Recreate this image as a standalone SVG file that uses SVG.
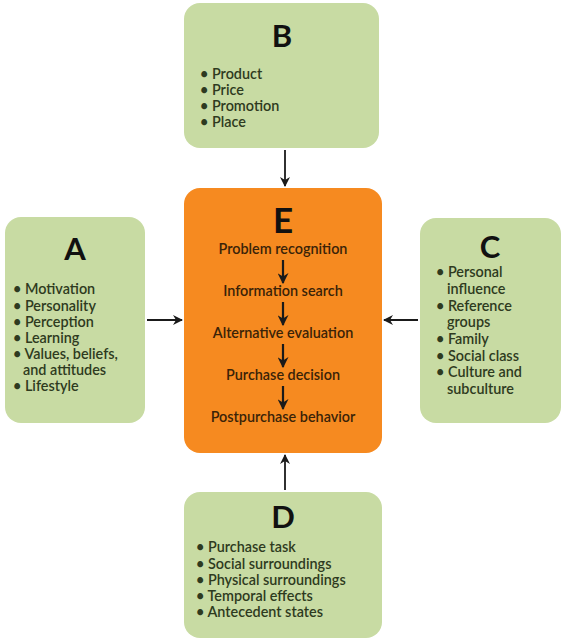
<svg xmlns="http://www.w3.org/2000/svg" width="564" height="642" viewBox="0 0 564 642">
<defs>
<marker id="ah" viewBox="0 0 10 10" refX="9" refY="5" markerWidth="10" markerHeight="10" markerUnits="userSpaceOnUse" orient="auto">
<path d="M0,0 L10,5 L0,10 L3,5 z" fill="#1a1a1a"/>
</marker>
<marker id="ah2" viewBox="0 0 10 10" refX="9" refY="5" markerWidth="11" markerHeight="11" markerUnits="userSpaceOnUse" orient="auto">
<path d="M0,0 L10,5 L0,10 L3,5 z" fill="#1a1a1a"/>
</marker>
</defs>
<style>
.g{fill:#c8dba3;}
.o{fill:#f68a20;}
.L{font-family:Lato,"Liberation Sans",sans-serif;font-size:31px;font-weight:700;fill:#111;text-anchor:middle;}
.t{font-family:Lato,"Liberation Sans",sans-serif;font-size:14.4px;font-weight:600;fill:#2e3a20;}
.e{font-family:Lato,"Liberation Sans",sans-serif;font-size:14.4px;font-weight:600;fill:#3a2308;text-anchor:middle;}
.c{stroke:#1a1a1a;stroke-width:1.8;fill:none;}
.s{stroke:#1a1a1a;stroke-width:2.2;fill:none;}
</style>
<rect width="564" height="642" fill="#fff"/>
<g id="B">
<rect class="g" x="184" y="3" width="195" height="145" rx="16"/>
<text class="L" x="282" y="47">B</text>
<text class="t" x="200" y="79">• Product</text>
<text class="t" x="200" y="95">• Price</text>
<text class="t" x="200" y="111">• Promotion</text>
<text class="t" x="200" y="127">• Place</text>
</g>
<g id="A">
<rect class="g" x="5" y="217" width="140" height="206" rx="16"/>
<text class="L" x="75" y="260">A</text>
<text class="t" x="13" y="294">• Motivation</text>
<text class="t" x="13" y="311">• Personality</text>
<text class="t" x="13" y="327">• Perception</text>
<text class="t" x="13" y="343">• Learning</text>
<text class="t" x="13" y="359">• Values, beliefs,</text>
<text class="t" x="23" y="375">and attitudes</text>
<text class="t" x="13" y="391">• Lifestyle</text>
</g>
<g id="C">
<rect class="g" x="420" y="218" width="141" height="205" rx="16"/>
<text class="L" x="490" y="258">C</text>
<text class="t" x="436" y="277">• Personal</text>
<text class="t" x="447" y="294">influence</text>
<text class="t" x="436" y="311">• Reference</text>
<text class="t" x="447" y="327">groups</text>
<text class="t" x="436" y="344">• Family</text>
<text class="t" x="436" y="361">• Social class</text>
<text class="t" x="436" y="377">• Culture and</text>
<text class="t" x="447" y="394">subculture</text>
</g>
<g id="E">
<rect class="o" x="184" y="188" width="198" height="265" rx="16"/>
<text class="L" x="283" y="233" style="font-size:35px">E</text>
<text class="e" x="283" y="254">Problem recognition</text>
<text class="e" x="283" y="296">Information search</text>
<text class="e" x="283" y="338">Alternative evaluation</text>
<text class="e" x="283" y="380">Purchase decision</text>
<text class="e" x="283" y="422">Postpurchase behavior</text>
<line class="s" x1="283" y1="260" x2="283" y2="283" marker-end="url(#ah2)"/>
<line class="s" x1="283" y1="302" x2="283" y2="325" marker-end="url(#ah2)"/>
<line class="s" x1="283" y1="344" x2="283" y2="367" marker-end="url(#ah2)"/>
<line class="s" x1="283" y1="386" x2="283" y2="409" marker-end="url(#ah2)"/>
</g>
<g id="D">
<rect class="g" x="184" y="492" width="198" height="146" rx="16"/>
<text class="L" x="283" y="528">D</text>
<text class="t" x="196" y="552">• Purchase task</text>
<text class="t" x="196" y="569">• Social surroundings</text>
<text class="t" x="196" y="585">• Physical surroundings</text>
<text class="t" x="196" y="601">• Temporal effects</text>
<text class="t" x="196" y="617">• Antecedent states</text>
</g>
<g id="connectors">
<line class="c" x1="285" y1="150" x2="285" y2="186" marker-end="url(#ah)"/>
<line class="c" x1="147" y1="320" x2="182" y2="320" marker-end="url(#ah)"/>
<line class="c" x1="418" y1="320" x2="384" y2="320" marker-end="url(#ah)"/>
<line class="c" x1="285" y1="490" x2="285" y2="455" marker-end="url(#ah)"/>
</g>
</svg>
